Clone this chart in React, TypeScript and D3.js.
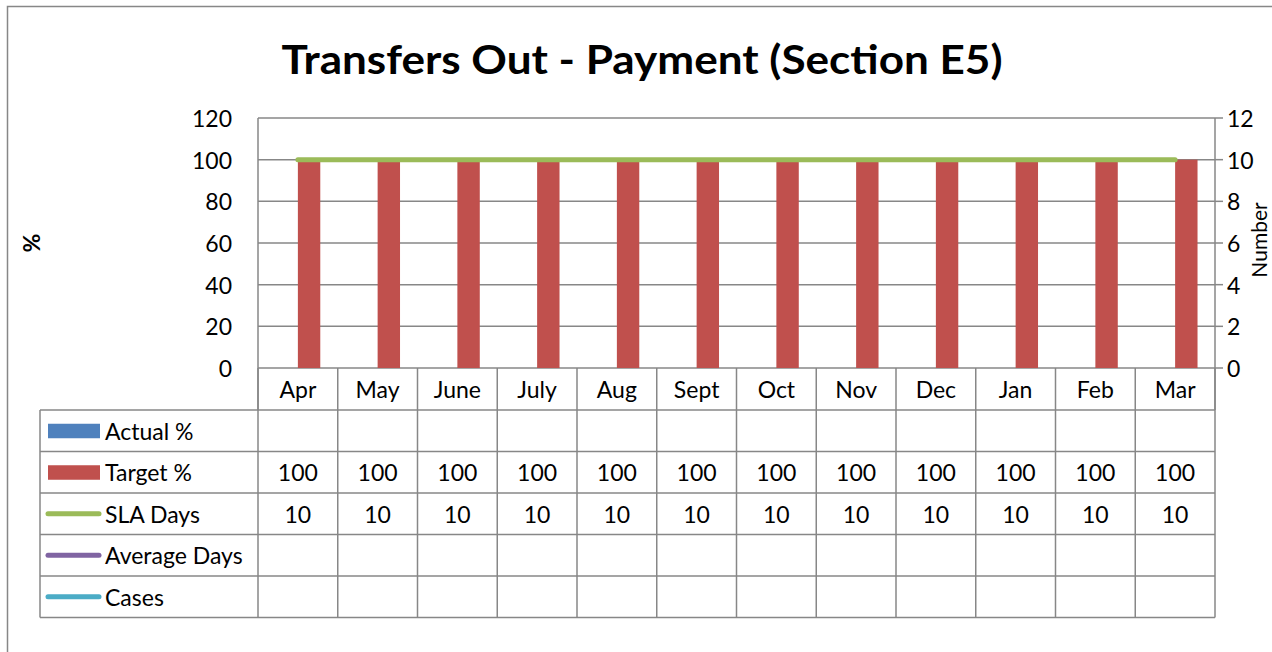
import React from 'react';
import * as d3 from 'd3';

const categories = ['Apr', 'May', 'June', 'July', 'Aug', 'Sept', 'Oct', 'Nov', 'Dec', 'Jan', 'Feb', 'Mar'];
const actualPct: (number | null)[] = [null, null, null, null, null, null, null, null, null, null, null, null];
const targetPct: (number | null)[] = [100, 100, 100, 100, 100, 100, 100, 100, 100, 100, 100, 100];
const slaDays: (number | null)[] = [10, 10, 10, 10, 10, 10, 10, 10, 10, 10, 10, 10];
const averageDays: (number | null)[] = [null, null, null, null, null, null, null, null, null, null, null, null];
const cases: (number | null)[] = [null, null, null, null, null, null, null, null, null, null, null, null];
const leftTicks = [0, 20, 40, 60, 80, 100, 120];
const rightTicks = [0, 2, 4, 6, 8, 10, 12];

const title = 'Transfers Out - Payment (Section E5)';

const series = [
  { name: 'Actual %', values: actualPct, color: '#4F81BD', kind: 'bar' },
  { name: 'Target %', values: targetPct, color: '#C0504D', kind: 'bar' },
  { name: 'SLA Days', values: slaDays, color: '#9BBB59', kind: 'line' },
  { name: 'Average Days', values: averageDays, color: '#8064A2', kind: 'line' },
  { name: 'Cases', values: cases, color: '#4BACC6', kind: 'line' },
];

const FONT = 'Lato, "Open Sans", sans-serif';
const GRID = '#878787';
const FS = 23;

export default function App() {
  const W = 1272, H = 652;
  const plotL = 258, plotR = 1215, plotT = 118, plotB = 368;
  const tableL = 40;
  const headerB = 410;
  const rowH = 41.5;

  const x = d3.scaleBand<string>().domain(categories).range([plotL, plotR]).paddingInner(0).paddingOuter(0);
  const barNames = series.filter(s => s.kind === 'bar').map(s => s.name);
  const x1 = d3.scaleBand<string>().domain(barNames).range([0, x.bandwidth()]).paddingInner(0).paddingOuter(0.78);
  const yL = d3.scaleLinear().domain([0, 120]).range([plotB, plotT]);
  const yR = d3.scaleLinear().domain([0, 12]).range([plotB, plotT]);

  const lineGen = d3.line<number | null>()
    .defined(d => d != null)
    .x((_, i) => (x(categories[i]) as number) + x.bandwidth() / 2)
    .y(d => yR(d as number));

  const bounds = [...categories.map(c => x(c) as number), plotR];

  return (
    <svg width={W} height={H} style={{ position: 'absolute', left: 0, top: 0, background: '#fff' }} fontFamily={FONT}>
      <rect x={0} y={0} width={W} height={H} fill="#fff" />
      <rect x={7.5} y={6.5} width={W + 20} height={H + 20} fill="none" stroke={GRID} strokeWidth={1.5} />
      <text x={642} y={74} textAnchor="middle" fontSize={40} fontWeight="bold" fill="#000" textLength={721} lengthAdjust="spacingAndGlyphs">{title}</text>

      {/* gridlines */}
      {leftTicks.map(t => (
        <line key={'g' + t} x1={plotL} x2={plotR} y1={yL(t)} y2={yL(t)} stroke={GRID} strokeWidth={1.5} />
      ))}
      <line x1={plotL} x2={plotL} y1={plotT} y2={headerB} stroke={GRID} strokeWidth={1.5} />
      <line x1={plotR} x2={plotR} y1={plotT} y2={headerB} stroke={GRID} strokeWidth={1.5} />
      {rightTicks.map(t => (
        <line key={'rt' + t} x1={plotR} x2={plotR + 8} y1={yR(t)} y2={yR(t)} stroke={GRID} strokeWidth={1.5} />
      ))}

      {/* left tick labels */}
      {leftTicks.map(t => (
        <text key={'lt' + t} x={232} y={yL(t)} textAnchor="end" dominantBaseline="central" fontSize={FS} fill="#000">{t}</text>
      ))}
      {rightTicks.map(t => (
        <text key={'rl' + t} x={1227} y={yR(t)} textAnchor="start" dominantBaseline="central" fontSize={FS} fill="#000">{t}</text>
      ))}
      <text transform={`translate(31,${(plotT + plotB) / 2}) rotate(-90)`} textAnchor="middle" dominantBaseline="central" fontSize={FS} fontWeight="bold" fill="#000">%</text>
      <text transform={`translate(1258,${(plotT + plotB) / 2 - 3}) rotate(-90)`} textAnchor="middle" dominantBaseline="central" fontSize={FS - 2} fill="#000">Number</text>

      {/* bars */}
      {series.filter(s => s.kind === 'bar').map(s => (
        <g key={s.name}>
          {s.values.map((v, i) => v == null ? null : (
            <rect key={i} x={(x(categories[i]) as number) + (x1(s.name) as number)} width={x1.bandwidth()} y={yL(v)} height={yL(0) - yL(v)} fill={s.color} />
          ))}
        </g>
      ))}

      {/* lines */}
      {series.filter(s => s.kind === 'line').map(s => (
        <path key={s.name} d={lineGen(s.values) || ''} fill="none" stroke={s.color} strokeWidth={5} strokeLinecap="round" strokeLinejoin="round" />
      ))}

      {/* category header row */}
      {bounds.map((b, i) => (
        <line key={'vb' + i} x1={b} x2={b} y1={plotB} y2={headerB + rowH * series.length} stroke={GRID} strokeWidth={1.5} />
      ))}
      {categories.map(c => (
        <text key={'c' + c} x={(x(c) as number) + x.bandwidth() / 2} y={(plotB + headerB) / 2} textAnchor="middle" dominantBaseline="central" fontSize={FS} fill="#000">{c}</text>
      ))}

      {/* data table */}
      {d3.range(series.length + 1).map(r => (
        <line key={'hr' + r} x1={tableL} x2={plotR} y1={headerB + r * rowH} y2={headerB + r * rowH} stroke={GRID} strokeWidth={1.5} />
      ))}
      <line x1={tableL} x2={tableL} y1={headerB} y2={headerB + rowH * series.length} stroke={GRID} strokeWidth={1.5} />
      {series.map((s, r) => {
        const cy = headerB + r * rowH + rowH / 2;
        return (
          <g key={'row' + s.name}>
            {s.kind === 'bar'
              ? <rect x={48} y={cy - 7} width={52} height={14.5} fill={s.color} />
              : <line x1={48} x2={99} y1={cy} y2={cy} stroke={s.color} strokeWidth={5} strokeLinecap="round" />}
            <text x={105} y={cy} dominantBaseline="central" fontSize={FS} fill="#000">{s.name}</text>
            {s.values.map((v, i) => v == null ? null : (
              <text key={i} x={(x(categories[i]) as number) + x.bandwidth() / 2} y={cy} textAnchor="middle" dominantBaseline="central" fontSize={FS} fill="#000">{v}</text>
            ))}
          </g>
        );
      })}
    </svg>
  );
}
